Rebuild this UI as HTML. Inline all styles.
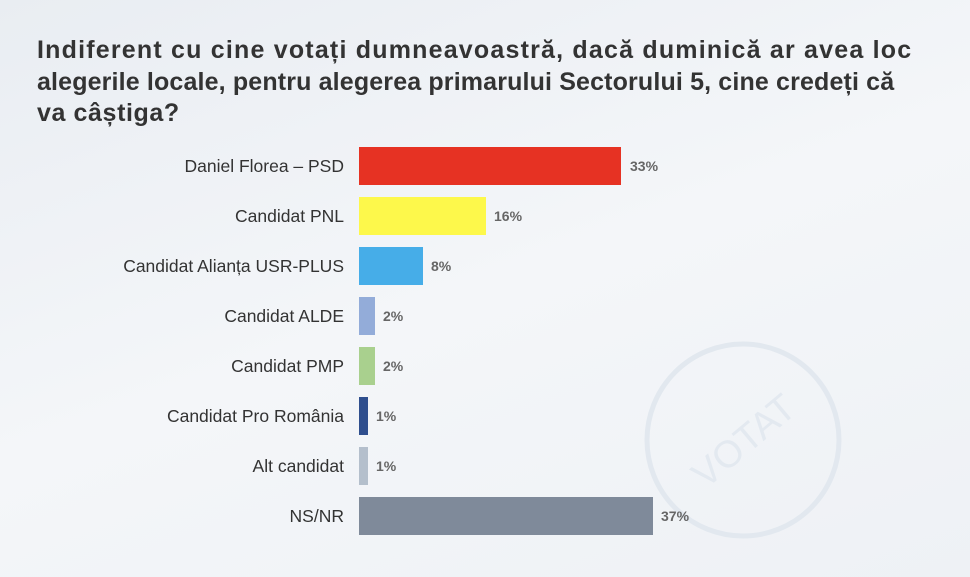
<!DOCTYPE html>
<html><head><meta charset="utf-8"><style>
body{margin:0;width:970px;height:577px;overflow:hidden;background:linear-gradient(160deg,#e9edf2 0%,#f4f6f9 50%,#eef1f5 100%);font-family:"Liberation Sans",sans-serif;position:relative}
.t{position:absolute;left:37px;top:35px;font-size:25px;font-weight:bold;color:#333;line-height:31.5px;white-space:nowrap}
.t span{display:block}
.l{position:absolute;right:626px;font-size:17.5px;color:#333;text-align:right;white-space:nowrap}
.b{position:absolute;left:359px;height:38px}
.v{position:absolute;font-size:14px;font-weight:bold;color:#666}
</style></head><body>
<svg style="position:absolute;left:0;top:0" width="970" height="577">
<circle cx="743" cy="440" r="96" fill="none" stroke="#e2e8ef" stroke-width="5"/>
<text x="743" y="454" font-family="Liberation Sans" font-size="38" fill="#e3e9f0" text-anchor="middle" transform="rotate(-40 743 440)">VOTAT</text>
</svg>
<div class="t"><span style="letter-spacing:1.2px">Indiferent cu cine votați dumneavoastră, dacă duminică ar avea loc</span><span style="letter-spacing:0.15px">alegerile locale, pentru alegerea primarului Sectorului 5, cine credeți că</span><span style="letter-spacing:0.6px">va câștiga?</span></div>

<div class="l" style="top:156px">Daniel Florea – PSD</div>
<div class="b" style="top:147px;width:262px;background:#e63223"></div>
<div class="v" style="top:158px;left:630px">33%</div>

<div class="l" style="top:206px">Candidat PNL</div>
<div class="b" style="top:197px;width:127px;background:#fdf84b"></div>
<div class="v" style="top:208px;left:494px">16%</div>

<div class="l" style="top:256px">Candidat Alianța USR-PLUS</div>
<div class="b" style="top:247px;width:64px;background:#46ade8"></div>
<div class="v" style="top:258px;left:431px">8%</div>

<div class="l" style="top:306px">Candidat ALDE</div>
<div class="b" style="top:297px;width:16px;background:#93acd9"></div>
<div class="v" style="top:308px;left:383px">2%</div>

<div class="l" style="top:356px">Candidat PMP</div>
<div class="b" style="top:347px;width:16px;background:#a9d08e"></div>
<div class="v" style="top:358px;left:383px">2%</div>

<div class="l" style="top:406px">Candidat Pro România</div>
<div class="b" style="top:397px;width:9px;background:#2f4f8e"></div>
<div class="v" style="top:408px;left:376px">1%</div>

<div class="l" style="top:456px">Alt candidat</div>
<div class="b" style="top:447px;width:9px;background:#b4bfcc"></div>
<div class="v" style="top:458px;left:376px">1%</div>

<div class="l" style="top:506px">NS/NR</div>
<div class="b" style="top:497px;width:294px;background:#7f8a9a"></div>
<div class="v" style="top:508px;left:661px">37%</div>
</body></html>
